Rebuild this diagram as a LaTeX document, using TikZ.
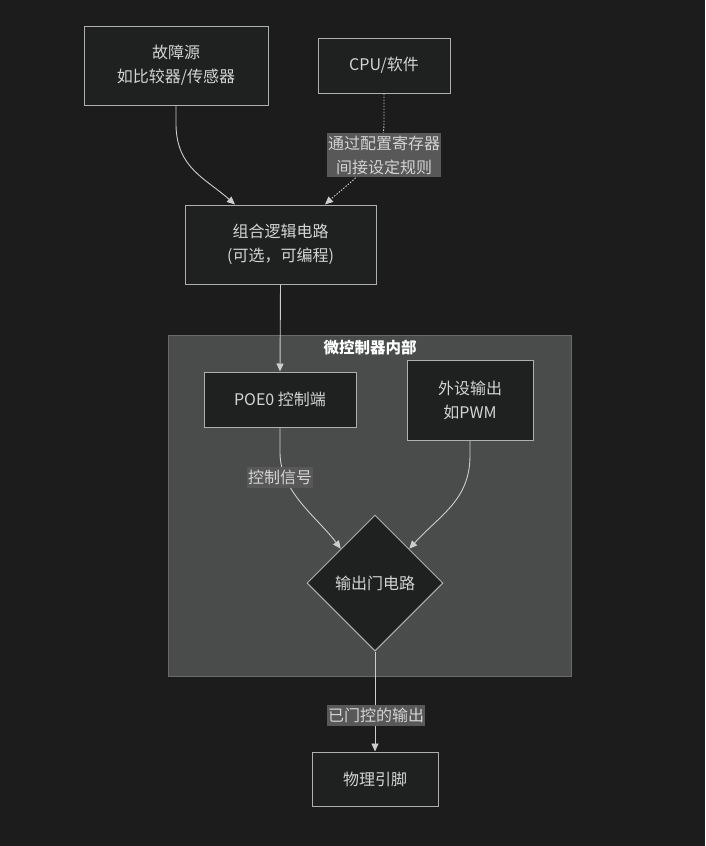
\documentclass[tikz,border=0pt]{standalone}
\usepackage{fontspec}
\setmainfont{Noto Sans CJK SC}
\usetikzlibrary{shapes.geometric,arrows.meta,calc}
\definecolor{bgc}{RGB}{28,28,28}
\definecolor{nodefill}{RGB}{31,32,32}
\definecolor{nodeline}{RGB}{175,175,175}
\definecolor{clfill}{RGB}{74,75,75}
\definecolor{clline}{RGB}{105,105,105}
\definecolor{lblfill}{RGB}{88,88,88}
\definecolor{txt}{RGB}{212,212,212}
\definecolor{edgec}{RGB}{205,205,205}
\begin{document}
\begin{tikzpicture}[x=1pt,y=-1pt,
  box/.style={draw=nodeline,fill=nodefill,line width=1pt,text=txt,inner sep=0pt,
    align=center,font=\fontsize{16}{24}\selectfont},
  gatebox/.style={diamond,draw=nodeline,fill=nodefill,line width=1pt,text=txt,inner sep=0pt,
    minimum width=136pt,minimum height=136pt,font=\fontsize{16}{24}\selectfont},
  lbl/.style={fill=lblfill,text=txt,inner xsep=1pt,inner ysep=3pt,align=center,font=\fontsize{16}{24}\selectfont},
  conn/.style={draw=edgec,line width=0.9pt,-{Triangle[length=8pt,width=7pt]}},
  dotconn/.style={conn,dash pattern=on 1.5pt off 1.5pt},
]
\fill[bgc] (0,0) rectangle (705,846);
\useasboundingbox (0,0) rectangle (705,846);
% cluster
\node[draw=clline,fill=clfill,line width=1pt,minimum width=403pt,minimum height=341pt,inner sep=0pt] (cluster) at (369.5,505.5) {};
\node[text=white,font=\fontsize{15.5}{18}\selectfont\bfseries] (cltitle) at (370,348) {微控制器内部};
% nodes
\node[box,minimum width=184pt,minimum height=79pt] (fault) at (176,65.5) {故障源\\如比较器/传感器};
\node[box,minimum width=132pt,minimum height=55pt] (cpu) at (384,65.5) {CPU/软件};
\node[box,minimum width=191pt,minimum height=79pt] (combo) at (280.5,244.5) {组合逻辑电路\\(可选，可编程)};
\node[box,minimum width=152pt,minimum height=55pt] (poe) at (280,399.5) {POE0 控制端};
\node[box,minimum width=126pt,minimum height=80pt] (periph) at (470,400) {外设输出\\如PWM};
\node[gatebox] (gate) at (375,583) {输出门电路};
\node[box,minimum width=126pt,minimum height=54pt] (pin) at (375,779) {物理引脚};
% edges
\coordinate (comboL) at ($(combo.north)+(-45.5,0)$);
\coordinate (comboR) at ($(combo.north)+(44.5,0)$);
\draw[conn] (fault.south) -- ++(0,20) .. controls (177,168) and (205,178) .. (comboL);
\draw[dotconn] (cpu.south) -- ++(0,30) .. controls (384,160) and (350,182) .. (comboR);
\node[lbl] (l1) at (384,155) {通过配置寄存器\\间接设定规则};
\draw[conn] (combo.south) -- (poe.north);
\draw[conn] (poe.south) -- ++(0,25) .. controls (280,492) and (318,518) .. (gate.north west);
\node[lbl] (l2) at (280,477.5) {控制信号};
\draw[conn] (periph.south) -- ++(0,15) .. controls (470,500) and (440,515) .. (gate.north east);
\draw[conn] (gate.south) -- (pin.north);
\node[lbl] (l3) at (376,715.5) {已门控的输出};
\end{tikzpicture}
\end{document}
